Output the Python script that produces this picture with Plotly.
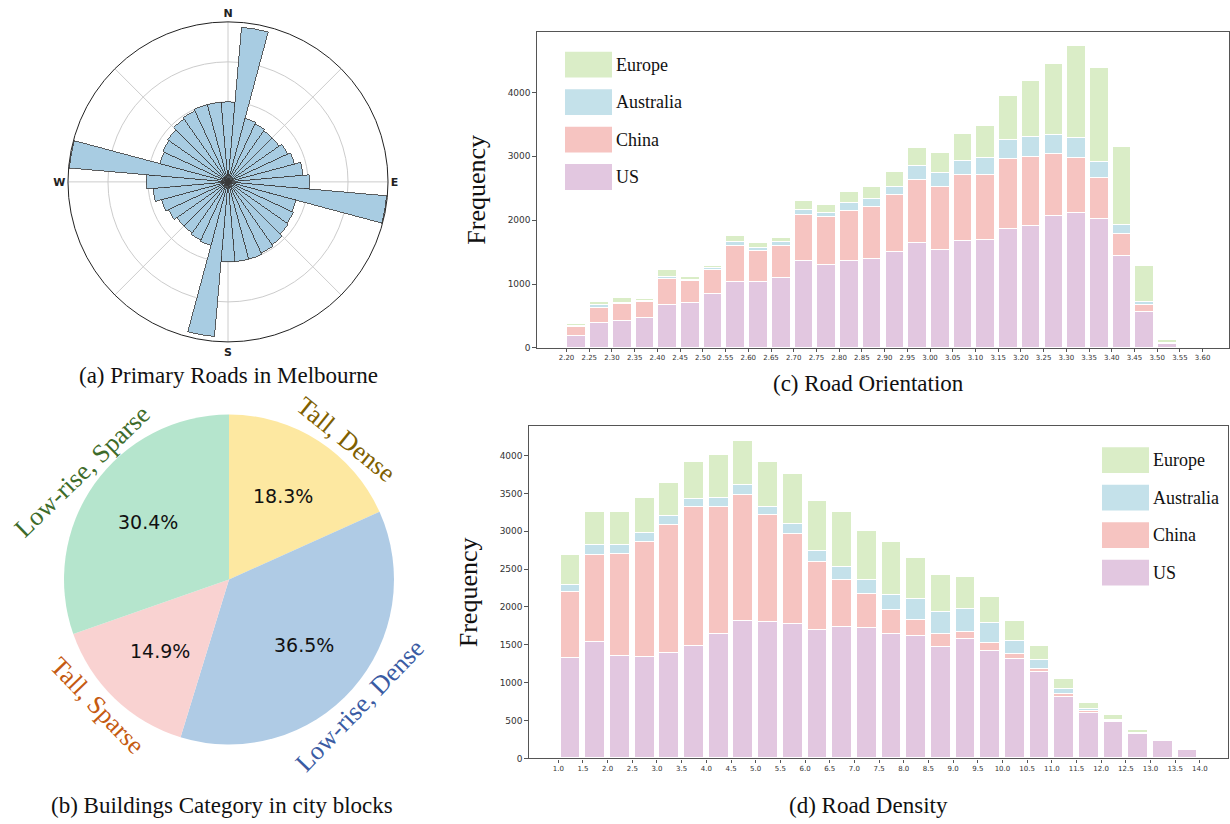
import math
import plotly.graph_objects as go

W, H = 1230, 824

# ---------------- (a) rose diagram data ----------------
rose_theta = list(range(0, 360, 10))
rose_half = [0.50, 0.97, 0.41, 0.40, 0.39, 0.39, 0.41, 0.43, 0.47,
             0.51, 0.995, 0.44, 0.45, 0.46, 0.48, 0.49, 0.50, 0.50]
rose_r = rose_half + rose_half

# ---------------- (b) pie data ----------------
pie_labels = ["Tall, Dense", "Low-rise, Dense", "Tall, Sparse", "Low-rise, Sparse"]
pie_values = [18.3, 36.5, 14.9, 30.4]

# ---------------- (c) road orientation ----------------
orient_bins = [2.20, 2.25, 2.30, 2.35, 2.40, 2.45, 2.50, 2.55, 2.60, 2.65, 2.70, 2.75, 2.80, 2.85,
               2.90, 2.95, 3.00, 3.05, 3.10, 3.15, 3.20, 3.25, 3.30, 3.35, 3.40, 3.45, 3.50]
orient_us = [192, 389, 420, 477, 669, 710, 850, 1037, 1042, 1094, 1369, 1306, 1369, 1400,
             1503, 1643, 1534, 1680, 1695, 1861, 1908, 2074, 2110, 2022, 1441, 560, 60]
orient_china = [135, 243, 275, 249, 409, 337, 368, 565, 482, 508, 715, 742, 782, 803,
                892, 991, 985, 1036, 1021, 1094, 1088, 964, 866, 637, 353, 114, 10]
orient_australia = [20, 42, 15, 10, 42, 21, 31, 62, 36, 62, 73, 72, 125, 135,
                    130, 217, 223, 218, 254, 301, 317, 306, 321, 249, 140, 52, 5]
orient_europe = [31, 41, 68, 26, 109, 41, 42, 88, 78, 62, 145, 125, 161, 187,
                 233, 275, 317, 425, 503, 694, 865, 1109, 1431, 1478, 1213, 554, 50]
orient_ticks = [round(2.20 + 0.05 * i, 2) for i in range(29)]

# ---------------- (d) road density ----------------
dens_bins = [1.0, 1.5, 2.0, 2.5, 3.0, 3.5, 4.0, 4.5, 5.0, 5.5, 6.0, 6.5, 7.0, 7.5,
             8.0, 8.5, 9.0, 9.5, 10.0, 10.5, 11.0, 11.5, 12.0, 12.5, 13.0, 13.5]
dens_us = [1323, 1533, 1349, 1336, 1384, 1485, 1638, 1809, 1796, 1765, 1686, 1730, 1713, 1638,
           1608, 1472, 1577, 1415, 1310, 1134, 810, 600, 477, 315, 219, 110]
dens_china = [867, 1152, 1340, 1511, 1691, 1826, 1682, 1664, 1410, 1192, 903, 627, 451, 311,
              210, 166, 92, 105, 57, 44, 35, 22, 14, 5, 4, 4]
dens_australia = [96, 132, 128, 123, 118, 106, 118, 127, 105, 131, 144, 162, 184, 202,
                  285, 289, 298, 263, 184, 119, 66, 26, 13, 9, 9, 4]
dens_europe = [390, 429, 429, 468, 443, 494, 561, 583, 605, 666, 666, 727, 652, 701,
               534, 495, 425, 337, 258, 184, 127, 83, 61, 35, 22, 13]
dens_ticks = [1.0 + 0.5 * i for i in range(27)]

region_names = ["US", "China", "Australia", "Europe"]
region_colors = {"US": "#e2c7e0", "China": "#f6c4c1", "Australia": "#c4e1ea", "Europe": "#daedc7"}

SERIF = "Liberation Serif"
SANS = "DejaVu Sans"


def px(x):
    return x / W


def py(y):
    return 1 - y / H


fig = go.Figure()

# ---- (a) rose ----
fig.add_trace(go.Barpolar(
    r=rose_r, theta=rose_theta, width=[10] * len(rose_theta),
    marker=dict(color="#a8cce2", line=dict(color="#3a3a3a", width=0.8)),
    showlegend=False, subplot="polar", hoverinfo="skip"))

# ---- (b) pie ----
PIE_CX, PIE_CY, PIE_R = 229, 583, 166
fig.add_trace(go.Pie(
    labels=pie_labels, values=pie_values, sort=False, direction="clockwise", rotation=0,
    marker=dict(colors=["#fde8a1", "#afcbe5", "#f9d2d1", "#b5e5cd"], line=dict(width=0)),
    textinfo="none",
    domain=dict(x=[px(PIE_CX - PIE_R), px(PIE_CX + PIE_R)], y=[py(PIE_CY + PIE_R), py(PIE_CY - PIE_R)]),
    showlegend=False, hoverinfo="skip"))

# ---- (c) stacked bars ----
orient_data = {"US": orient_us, "China": orient_china, "Australia": orient_australia, "Europe": orient_europe}
for name in region_names:
    fig.add_trace(go.Bar(
        x=orient_bins, y=orient_data[name], offset=0.002, width=0.041,
        marker=dict(color=region_colors[name], line=dict(color="white", width=1)),
        name=name, showlegend=False, xaxis="x", yaxis="y"))

# ---- (d) stacked bars ----
dens_data = {"US": dens_us, "China": dens_china, "Australia": dens_australia, "Europe": dens_europe}
for name in region_names:
    fig.add_trace(go.Bar(
        x=dens_bins, y=dens_data[name], offset=0.05, width=0.4,
        marker=dict(color=region_colors[name], line=dict(color="white", width=1)),
        name=name, showlegend=False, xaxis="x2", yaxis="y2"))

axis_line = "#555555"
tickfont = dict(family=SANS, size=9, color="#333333")

fig.update_layout(
    width=W, height=H, margin=dict(l=0, r=0, t=0, b=0),
    paper_bgcolor="white", plot_bgcolor="white", barmode="stack", bargap=0,
    hovermode=False,
    polar=dict(
        domain=dict(x=[px(67), px(389)], y=[py(344), py(22)]),
        bgcolor="white",
        angularaxis=dict(rotation=90, direction="clockwise",
                         tickmode="array", tickvals=[0, 45, 90, 135, 180, 225, 270, 315],
                         ticktext=["<b>N</b>", "", "<b>E</b>", "", "<b>S</b>", "", "<b>W</b>", ""],
                         tickfont=dict(family=SANS, size=11, color="#222222"),
                         ticks="", showline=True, linecolor="#222222", linewidth=1,
                         gridcolor="#cccccc", gridwidth=1),
        radialaxis=dict(range=[0, 1.0], tickmode="array", tickvals=[0.25, 0.5, 0.75, 1.0],
                        showticklabels=False, ticks="", showline=False,
                        gridcolor="#cccccc", gridwidth=1),
    ),
    xaxis=dict(domain=[px(537), px(1229)], range=[2.135, 3.658], anchor="y",
               tickmode="array", tickvals=orient_ticks, ticktext=["%.2f" % t for t in orient_ticks],
               tickfont=dict(family=SANS, size=7, color="#333333"), ticks="outside", ticklen=3,
               tickcolor=axis_line, showline=True, linecolor=axis_line, linewidth=1.3, mirror=True,
               showgrid=False, zeroline=False, tickangle=0),
    yaxis=dict(domain=[py(350), py(32)], range=[0, 4950], anchor="x",
               tickmode="array", tickvals=[0, 1000, 2000, 3000, 4000],
               tickfont=tickfont, ticks="outside", ticklen=3.5, tickcolor=axis_line,
               showline=True, linecolor=axis_line, linewidth=1.3, mirror=True,
               showgrid=False, zeroline=False,
               title=dict(text="Frequency", font=dict(family=SERIF, size=26, color="#111111"), standoff=14)),
    xaxis2=dict(domain=[px(529), px(1228)], range=[0.407, 14.57], anchor="y2",
                tickmode="array", tickvals=dens_ticks, ticktext=["%.1f" % t for t in dens_ticks],
                tickfont=dict(family=SANS, size=7, color="#333333"), ticks="outside", ticklen=3,
                tickcolor=axis_line, showline=True, linecolor=axis_line, linewidth=1.3, mirror=True,
                showgrid=False, zeroline=False, tickangle=0),
    yaxis2=dict(domain=[py(763), py(429)], range=[0, 4385], anchor="x2",
                tickmode="array", tickvals=[0, 500, 1000, 1500, 2000, 2500, 3000, 3500, 4000],
                tickfont=tickfont, ticks="outside", ticklen=3.5, tickcolor=axis_line,
                showline=True, linecolor=axis_line, linewidth=1.3, mirror=True,
                showgrid=False, zeroline=False,
                title=dict(text="Frequency", font=dict(family=SERIF, size=26, color="#111111"), standoff=14)),
)

annotations = []
shapes = []

# pie percentage labels, placed at 0.6 radius on each slice's mid angle
total = sum(pie_values)
start = 0.0
for v in pie_values:
    mid = (start + v / 2) / total * 2 * math.pi
    start += v
    lx = PIE_CX + 0.6 * PIE_R * math.sin(mid)
    ly = PIE_CY - 0.6 * PIE_R * math.cos(mid)
    annotations.append(dict(text="%.1f%%" % (v / total * 100), x=px(lx), y=py(ly),
                            xref="paper", yref="paper", showarrow=False,
                            xanchor="center", yanchor="middle",
                            font=dict(family=SANS, size=19, color="#111111")))

# captions
captions = [("(a) Primary Roads in Melbourne", 228, 378),
            ("(b) Buildings Category in city blocks", 222, 810),
            ("(c) Road Orientation", 868, 386),
            ("(d) Road Density", 868, 810)]
for txt, cx, cy in captions:
    annotations.append(dict(text=txt, x=px(cx), y=py(cy), xref="paper", yref="paper",
                            showarrow=False, xanchor="center", yanchor="middle",
                            font=dict(family=SERIF, size=23, color="#111111")))

# pie outer labels (rotated, coloured)
pie_label_style = [("Tall, Dense", 346, 442, 39, "#7f6000"),
                   ("Low-rise, Dense", 360, 710, -46, "#3a5ba3"),
                   ("Tall, Sparse", 97, 710, 46, "#c55a11"),
                   ("Low-rise, Sparse", 82, 474, -44, "#3d6b2a")]
for txt, cx, cy, ang, col in pie_label_style:
    annotations.append(dict(text=txt, x=px(cx), y=py(cy), xref="paper", yref="paper",
                            showarrow=False, xanchor="center", yanchor="middle", textangle=ang,
                            font=dict(family=SERIF, size=26, color=col)))

# custom legends with large patches
legend_order = ["Europe", "Australia", "China", "US"]
for (lx, ly0) in [(565, 52), (1102, 450)]:
    for i, name in enumerate(legend_order):
        y0 = ly0 + i * 37.7
        shapes.append(dict(type="rect", xref="paper", yref="paper",
                           x0=px(lx), x1=px(lx + 47), y0=py(y0 + 26), y1=py(y0),
                           fillcolor=region_colors[name], line=dict(width=0)))
        annotations.append(dict(text=name, x=px(lx + 49), y=py(y0 + 13), xref="paper", yref="paper",
                                showarrow=False, xanchor="left", yanchor="middle",
                                font=dict(family=SERIF, size=18, color="#111111")))

fig.update_layout(annotations=annotations, shapes=shapes)
fig.write_html("out.html", config={"displayModeBar": False},
               post_script="document.body.style.margin='0';document.body.style.overflow='hidden';")
